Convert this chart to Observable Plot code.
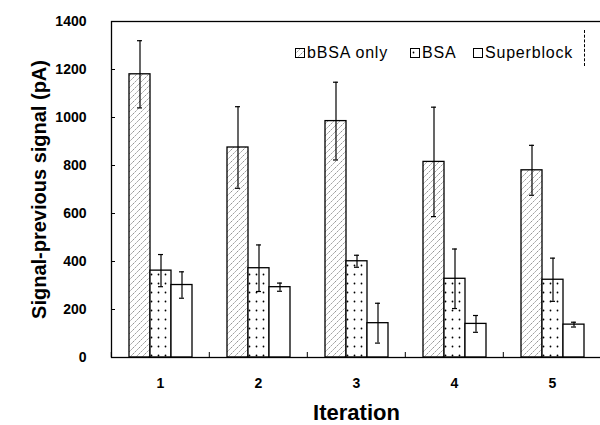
<!DOCTYPE html>
<html><head><meta charset="utf-8">
<script src="https://cdn.jsdelivr.net/npm/d3@7"></script>
<script src="https://cdn.jsdelivr.net/npm/@observablehq/plot@0.6"></script>
<style>
body{margin:0;background:#fff;font-family:"Liberation Sans",Arial,sans-serif}
#wrap{position:relative;width:600px;height:425px;overflow:hidden}
.leg{position:absolute;top:45px;display:flex;align-items:center;font-size:16px;letter-spacing:0.8px;color:#000;line-height:16px;white-space:nowrap}
.leg svg{margin-right:2px}
#edge{position:absolute;left:584px;top:30px;height:36px;border-left:1px dashed #000}
</style></head>
<body>
<svg width="0" height="0" style="position:absolute">
<defs>
<pattern id="hatch" patternUnits="userSpaceOnUse" width="6" height="6">
<rect width="6" height="6" fill="#fff"/>
<path d="M-1,1 l2,-2 M0,6 l6,-6 M5,7 l2,-2" stroke="#777" stroke-width="0.8" stroke-dasharray="2,1"/>
</pattern>
<pattern id="dots" patternUnits="userSpaceOnUse" width="7" height="9">
<rect width="7" height="9" fill="#fff"/>
<circle cx="3.5" cy="4.5" r="0.9" fill="#000"/>
</pattern>
</defs>
</svg>
<div id="wrap"><div id="chart"></div><div id="edge"></div></div>
<script>
const iterations = ["1", "2", "3", "4", "5"];
const series = ["bBSA only", "BSA", "Superblock"];
const bbsaMean = [1180, 875, 985, 815, 780];
const bbsaErr  = [140, 170, 162, 228, 104];
const bsaMean  = [362, 372, 401, 328, 324];
const bsaErr   = [67, 97, 25, 124, 90];
const superMean = [302, 293, 143, 140, 137];
const superErr  = [55, 17, 83, 35, 10];
const yTicks = [0, 200, 400, 600, 800, 1000, 1200, 1400];
const seriesFill = {"bBSA only": "url(#hatch)", "BSA": "url(#dots)", "Superblock": "#fff"};

const means = [bbsaMean, bsaMean, superMean];
const errs = [bbsaErr, bsaErr, superErr];
const data = [];
iterations.forEach((it, i) => series.forEach((s, k) => {
  data.push({iter: it, series: s, mean: means[k][i], lo: means[k][i] - errs[k][i], hi: means[k][i] + errs[k][i]});
}));

const W = 600, ML = 110, MR = -2;
const step = (W - ML - MR) / iterations.length;

const chart = Plot.plot({
  width: W, height: 425,
  marginLeft: ML, marginRight: MR, marginTop: 21, marginBottom: 68,
  style: {fontFamily: "'Liberation Sans', Arial, sans-serif", fontWeight: "bold", fontSize: "14px", color: "#000", background: "#fff"},
  fx: {domain: iterations, paddingInner: 0, paddingOuter: 0, label: null, axis: null},
  x: {domain: series, paddingInner: 0, paddingOuter: 0.74, axis: null},
  y: {domain: [0, 1400], axis: null},
  color: {type: "identity"},
  marks: [
    Plot.barY(data, {fx: "iter", x: "series", y: "mean", fill: d => seriesFill[d.series], stroke: "#000", strokeWidth: 1.3}),
    Plot.ruleX(data, {fx: "iter", x: "series", y1: "lo", y2: "hi", stroke: "#000", strokeWidth: 1.2}),
    Plot.tickY(data, {fx: "iter", x: "series", y: "hi", insetLeft: 8, insetRight: 8, stroke: "#000", strokeWidth: 1.2}),
    Plot.tickY(data, {fx: "iter", x: "series", y: "lo", insetLeft: 8, insetRight: 8, stroke: "#000", strokeWidth: 1.2}),
    Plot.frame({facet: "super", stroke: "#000", strokeWidth: 1.3}),
    Plot.axisY(yTicks, {anchor: "left", tickSize: -4, tickPadding: 29, tickFormat: d3.format("d"), label: null, fontSize: 14, fontWeight: "bold"}),
    Plot.axisY({anchor: "left", ticks: [], tickSize: 0, label: "Signal-previous signal (pA)", labelArrow: false, labelAnchor: "center", labelOffset: 80, fontSize: 20, fontWeight: "bold"}),
    Plot.axisFx({anchor: "bottom", tickSize: 0, tickPadding: 21, label: null, fontSize: 14, fontWeight: "bold"}),
    Plot.axisFx({anchor: "bottom", tickSize: -5, tickFormat: () => "", label: null, dx: -step / 2}),
    Plot.axisFx({anchor: "bottom", ticks: [], tickSize: 0, label: "Iteration", labelArrow: false, labelAnchor: "center", labelOffset: 62, fontSize: 22, fontWeight: "bold"})
  ]
});
document.getElementById("chart").appendChild(chart);

const legLeft = [295, 410, 473];
const wrap = document.getElementById("wrap");
series.forEach((s, k) => {
  const d = document.createElement("div");
  d.className = "leg";
  d.style.left = legLeft[k] + "px";
  d.innerHTML = `<svg width="10" height="10"><rect x="0.5" y="0.5" width="9" height="9" fill="${seriesFill[s]}" stroke="#000" stroke-width="1"/></svg><span>${s}</span>`;
  wrap.appendChild(d);
});
</script>
</body></html>
